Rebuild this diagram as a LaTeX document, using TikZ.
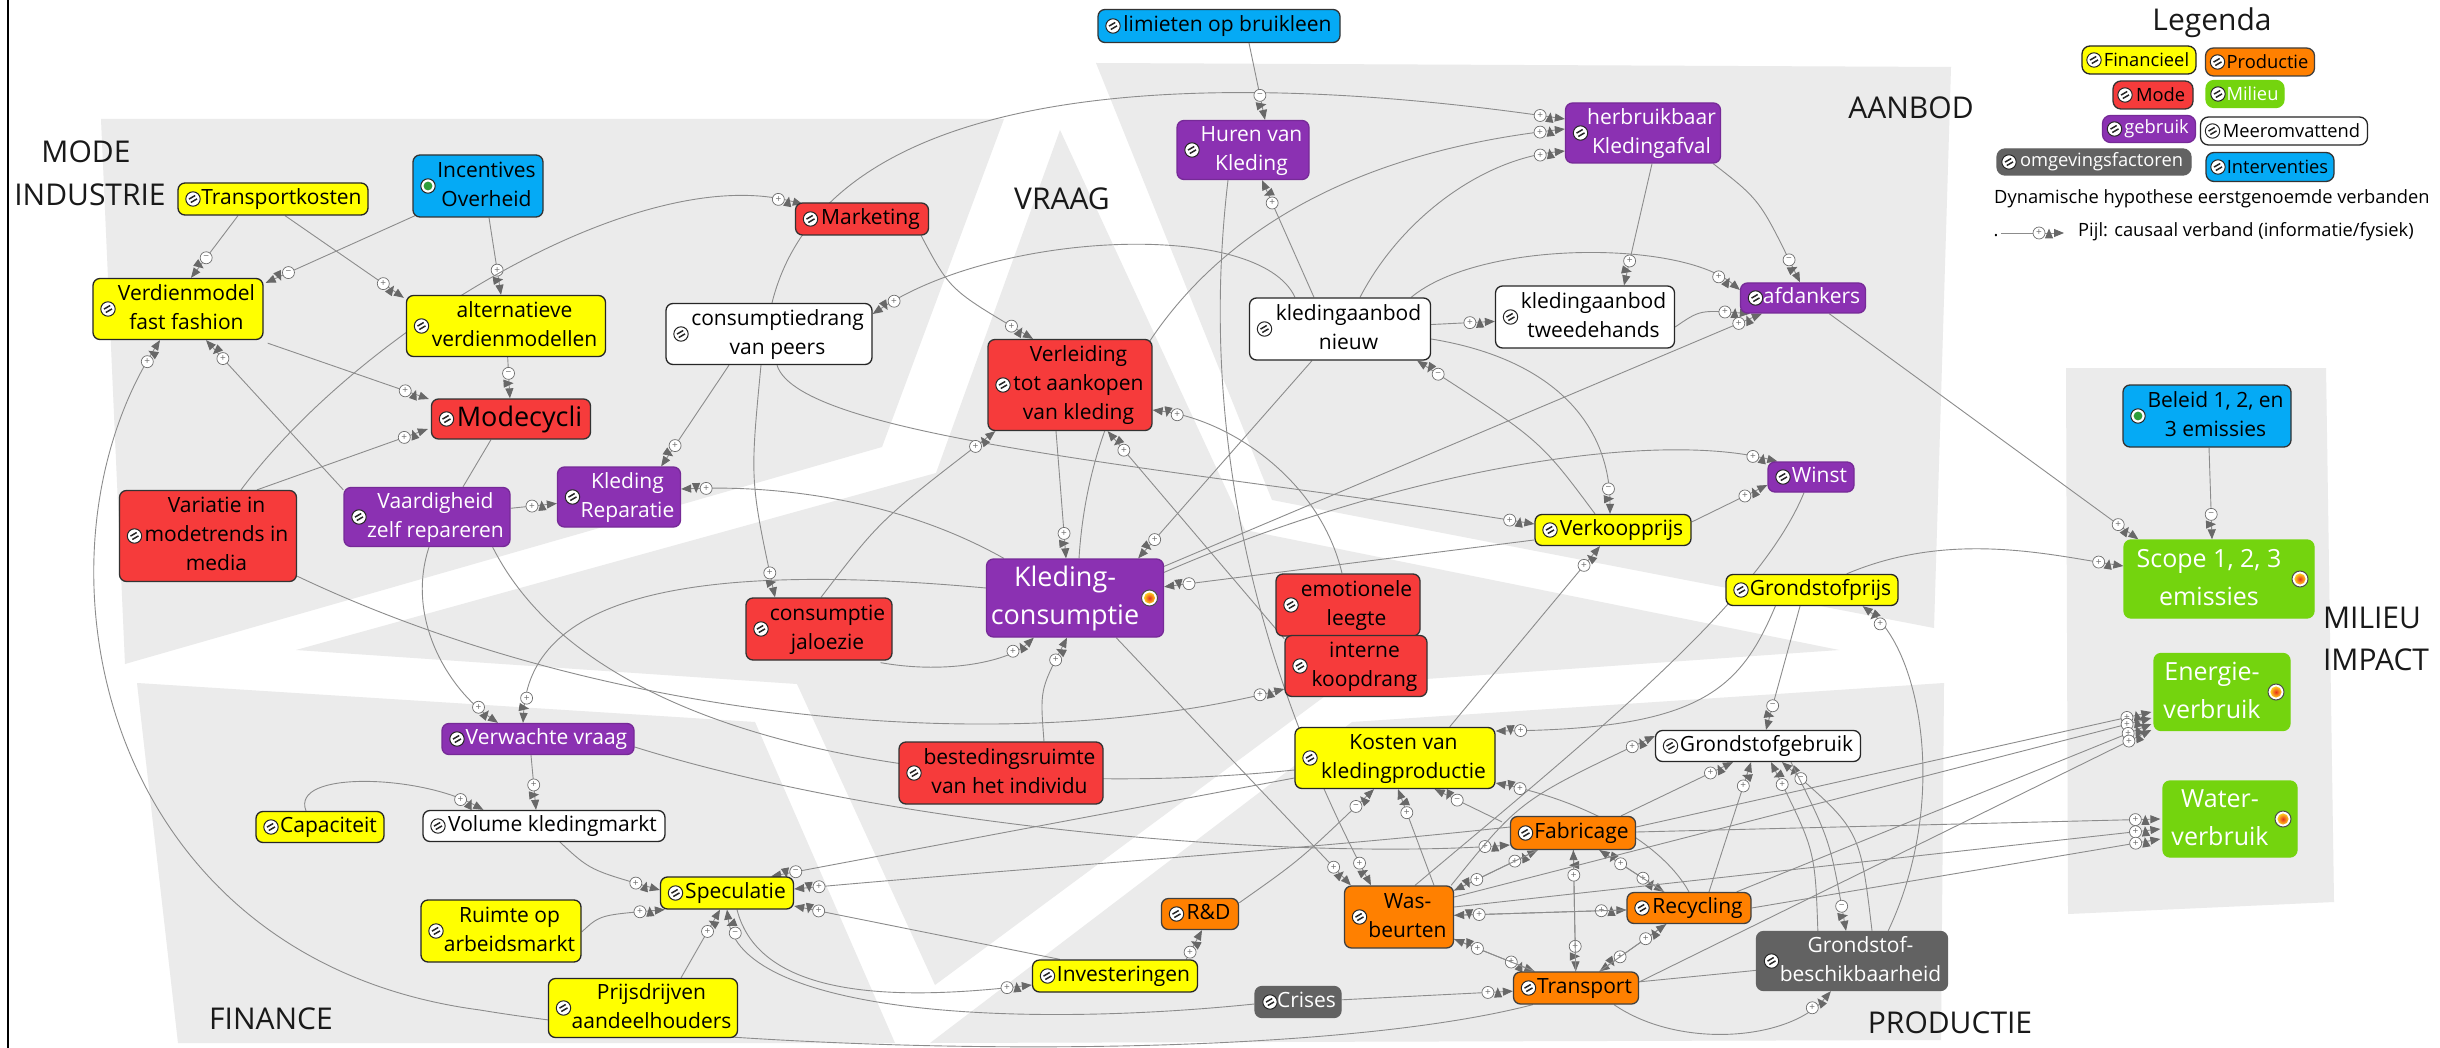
\documentclass[tikz,border=0pt]{standalone}
\usepackage{fontspec}
\setmainfont{Open Sans}
\usetikzlibrary{arrows.meta,decorations.markings,calc}
\pgfdeclarelayer{bg}
\pgfdeclarelayer{edges}
\pgfsetlayers{bg,edges,main}

\definecolor{cyel}{HTML}{FFFF00}
\definecolor{cred}{HTML}{F63B3B}
\definecolor{cpur}{HTML}{8B31B2}
\definecolor{cblu}{HTML}{05AAF5}
\definecolor{cora}{HTML}{FF8000}
\definecolor{cgrn}{HTML}{74D40E}
\definecolor{cdgr}{HTML}{626262}
\definecolor{cbg}{HTML}{EBEBEB}
\definecolor{lnc}{HTML}{8C8C8C}
\definecolor{arc}{HTML}{686868}
\definecolor{sgc}{HTML}{6E6E6E}
\definecolor{cgd}{HTML}{2E9E3A}
\definecolor{dotin}{HTML}{E8301A}
\definecolor{dotout}{HTML}{FFD21E}

\newcommand\nf{\fontsize{21}{29}\selectfont}
\newcommand\bigf{\fontsize{27}{38}\selectfont}
\newcommand\grf{\fontsize{25}{38}\selectfont}
\newcommand\lgf{\fontsize{18.3}{22}\selectfont}
\newcommand\secf{\fontsize{30}{43}\selectfont}
\newcommand\ltx[1]{\hspace*{17pt}\begin{tabular}{@{}c@{}}#1\end{tabular}}
\newcommand\rtx[1]{\begin{tabular}{@{}c@{}}#1\end{tabular}\hspace*{20pt}}
\newcommand\lgt[1]{\hspace*{15pt}#1}

\tikzset{
  bx/.style={rounded corners=7pt, line width=1.3pt, inner sep=0pt, font=\nf},
  nyel/.style={bx, fill=cyel, draw=black!85},
  nred/.style={bx, fill=cred, draw=black!80},
  npur/.style={bx, fill=cpur, draw=cpur!85!black, text=white},
  nblu/.style={bx, fill=cblu, draw=black!80},
  nora/.style={bx, fill=cora, draw=black!75},
  ngrn/.style={bx, fill=cgrn, draw=cgrn, text=white},
  ndgr/.style={bx, fill=cdgr, draw=cdgr, text=white},
  nwht/.style={bx, fill=white, draw=black!85},
  lg/.style={font=\lgf, rounded corners=8pt},
  sec/.style={font=\secf, inner sep=0pt, text=black!90},
  % equation icon on the left side of a variable
  ic/.style={path picture={
      \path ([xshift=#1pt]path picture bounding box.west) coordinate (icc);
      \draw[line width=1pt, draw=black!85, fill=white] (icc) circle[radius=7.2pt];
      \draw[line width=1.5pt, draw=black!85]
        ([shift={(-2.2pt,-3.5pt)}]icc) -- ([shift={(4.0pt,0.1pt)}]icc)
        ([shift={(-4.0pt,-0.1pt)}]icc) -- ([shift={(2.2pt,3.5pt)}]icc);}},
  ic/.default=15,
  % intervention icon
  gic/.style={path picture={
      \path ([xshift=15pt]path picture bounding box.west) coordinate (icc);
      \draw[line width=1pt, draw=black!85, fill=white] (icc) circle[radius=7.2pt];
      \fill[cgd] (icc) circle[radius=4.4pt];}},
  % output indicator on the right side
  oic/.style={path picture={
      \path ([xshift=-14pt]path picture bounding box.east) coordinate (icc);
      \draw[line width=1pt, draw=black!70, fill=white] (icc) circle[radius=8pt];
      \shade[inner color=dotin, outer color=dotout] (icc) circle[radius=5.6pt];}},
  sgn/.style={circle, draw=sgc, fill=white, line width=0.7pt, inner sep=0pt,
      minimum size=12pt, font=\fontsize{10}{10}\selectfont, text=sgc},
  lk/.style={draw=lnc, line width=0.9pt,
      -{Triangle[length=10pt,width=8pt,color=arc,fill=arc]}},
  ep/.style={lk, postaction={decorate, decoration={markings,
      mark=at position -25pt with {\node[sgn]{+};},
      mark=at position -15pt with {\draw[arc, line width=1pt] (0pt,-4.5pt) -- (0pt,4.5pt);}}}},
  en/.style={lk, postaction={decorate, decoration={markings,
      mark=at position -25pt with {\node[sgn]{\char"2212};},
      mark=at position -15pt with {\draw[arc, line width=1pt] (0pt,-4.5pt) -- (0pt,4.5pt);}}}},
  el/.style={draw=lnc, line width=0.9pt},
}

\begin{document}
\begin{tikzpicture}[x=1pt,y=-1pt]
\useasboundingbox (0,0) rectangle (2440,1048);

\begin{pgfonlayer}{bg}
  \fill[white] (0,0) rectangle (2440,1048);
  % sector panels
  \fill[cbg] (101,119) -- (1004,119) -- (882,447) -- (125,664) -- cycle;
  \fill[cbg] (1060,130) -- (1245,530) -- (1839,650) -- (1340,685) -- (935,985)
     -- (797,684) -- (296,650) -- (936,473) -- cycle;
  \fill[cbg] (1096,63) -- (1951,67) -- (1934,628) -- (1272,500) -- cycle;
  \fill[cbg] (137,683) -- (755,722) -- (895,1043) -- (178,1043) -- cycle;
  \fill[cbg] (1352,722) -- (1944,683) -- (1941,1040) -- (930,1043) -- cycle;
  \fill[cbg] (2066,368) -- (2326,368) -- (2334,902) -- (2068,914) -- cycle;
  \draw[line width=1.6pt] (8,0) -- (8,1048);
\end{pgfonlayer}

% sector titles
\node[sec] (tmode) at (86,152) {MODE};
\node[sec] (tind) at (90,195) {INDUSTRIE};
\node[sec] (tvraag) at (1062,199) {VRAAG};
\node[sec] (taanbod) at (1911,108) {AANBOD};
\node[sec] (tfin) at (271,1019) {FINANCE};
\node[sec] (tprod) at (1950,1023) {PRODUCTIE};
\node[sec] (tmil) at (2372,618) {MILIEU};
\node[sec] (timp) at (2376,660) {IMPACT};

% legend
\node[sec] (legt) at (2212,23) {Legenda};
\node[nyel, lg, ic=12, minimum width=114pt, minimum height=28pt] (lfin) at (2139,60) {\lgt{Financieel}};
\node[nora, lg, ic=12, minimum width=109pt, minimum height=28pt] (lprod) at (2260,62) {\lgt{Productie}};
\node[nred, lg, ic=12, minimum width=80pt, minimum height=28pt] (lmode) at (2153,95) {\lgt{Mode}};
\node[ngrn, lg, ic=12, minimum width=78pt, minimum height=27pt] (lmil) at (2245,94) {\lgt{Milieu}};
\node[npur, lg, ic=12, minimum width=93pt, minimum height=27pt] (lgeb) at (2149,129) {\lgt{gebruik}};
\node[nwht, lg, ic=12, minimum width=167pt, minimum height=28pt] (lmeer) at (2284,131) {\lgt{Meeromvattend}};
\node[ndgr, lg, ic=12, minimum width=194pt, minimum height=26pt] (lomg) at (2094,162) {\lgt{omgevingsfactoren}};
\node[nblu, lg, ic=12, minimum width=128pt, minimum height=29pt] (lint) at (2270,167) {\lgt{Interventies}};
\node[anchor=west, font=\lgf, inner sep=0pt] (ldyn) at (1994,199) {Dynamische hypothese eerstgenoemde verbanden};
\node[anchor=west, font=\lgf, inner sep=0pt] (lpijl) at (2078,232) {Pijl: causaal verband (informatie/fysiek)};
\node[font=\lgf, inner sep=0pt] (ldot) at (1996,236) {.};
\coordinate (la) at (2001,233);
\coordinate (lb) at (2064,233);

% variables
\node[nblu, ic, minimum width=242pt, minimum height=33pt] (lim) at (1219,26) {\ltx{limieten op bruikleen}};
\node[npur, ic, minimum width=132pt, minimum height=59pt] (huren) at (1243,150) {\ltx{Huren van\\Kleding}};
\node[npur, ic, minimum width=155pt, minimum height=60pt] (herb) at (1643,133) {\ltx{herbruikbaar\\Kledingafval}};
\node[nyel, ic, minimum width=190pt, minimum height=32pt] (transp) at (273,199) {\ltx{Transportkosten}};
\node[nblu, gic, minimum width=130pt, minimum height=62pt] (incent) at (478,186) {\ltx{Incentives\\Overheid}};
\node[nyel, ic, minimum width=170pt, minimum height=61pt] (verd) at (178,309) {\ltx{Verdienmodel\\fast fashion}};
\node[nyel, ic, minimum width=199pt, minimum height=61pt] (alt) at (506,326) {\ltx{alternatieve\\verdienmodellen}};
\node[nred, ic, minimum width=133pt, minimum height=32pt] (mark) at (862,219) {\ltx{Marketing}};
\node[nwht, ic, minimum width=206pt, minimum height=61pt] (peers) at (769,334) {\ltx{consumptiedrang\\van peers}};
\node[nred, ic, minimum width=164pt, minimum height=91pt] (verl) at (1070,385) {\ltx{Verleiding\\tot aankopen\\van kleding}};
\node[nwht, ic, minimum width=181pt, minimum height=62pt] (aanbn) at (1340,329) {\ltx{kledingaanbod\\nieuw}};
\node[nwht, ic, minimum width=179pt, minimum height=62pt] (aanbt) at (1585,317) {\ltx{kledingaanbod\\tweedehands}};
\node[npur, ic, minimum width=125pt, minimum height=30pt] (afd) at (1803,298) {\ltx{afdankers}};
\node[nred, ic, minimum width=159pt, minimum height=40pt, font=\bigf] (mode) at (511,419) {\ltx{Modecycli}};
\node[nred, ic, minimum width=177pt, minimum height=91pt] (var) at (208,536) {\ltx{Variatie in\\modetrends in\\media}};
\node[npur, ic, minimum width=166pt, minimum height=59pt] (vaard) at (427,517) {\ltx{Vaardigheid\\zelf repareren}};
\node[npur, ic, minimum width=123pt, minimum height=60pt] (rep) at (619,497) {\ltx{Kleding\\Reparatie}};
\node[npur, oic, minimum width=177pt, minimum height=78pt, font=\bigf] (kc) at (1075,598) {\rtx{Kleding-\\consumptie}};
\node[nred, ic, minimum width=146pt, minimum height=62pt] (jal) at (819,629) {\ltx{consumptie\\jaloezie}};
\node[nred, ic, minimum width=144pt, minimum height=62pt] (emo) at (1348,605) {\ltx{emotionele\\leegte}};
\node[nred, ic, minimum width=142pt, minimum height=61pt] (intk) at (1356,666) {\ltx{interne\\koopdrang}};
\node[nyel, ic, minimum width=156pt, minimum height=31pt] (vkp) at (1613,530) {\ltx{Verkoopprijs}};
\node[npur, ic, minimum width=86pt, minimum height=30pt] (winst) at (1811,477) {\ltx{Winst}};
\node[nyel, ic, minimum width=172pt, minimum height=31pt] (gsp) at (1812,590) {\ltx{Grondstofprijs}};
\node[nblu, gic, minimum width=168pt, minimum height=62pt] (beleid) at (2207,416) {\ltx{Beleid 1, 2, en\\3 emissies}};
\node[ngrn, oic, minimum width=190pt, minimum height=78pt, font=\grf] (scope) at (2219,579) {\rtx{Scope 1, 2, 3\\emissies}};
\node[ngrn, oic, minimum width=136pt, minimum height=77pt, font=\grf] (energie) at (2222,692) {\rtx{Energie-\\verbruik}};
\node[ngrn, oic, minimum width=134pt, minimum height=76pt, font=\grf] (water) at (2230,819) {\rtx{Water-\\verbruik}};
\node[npur, ic, minimum width=192pt, minimum height=31pt] (verw) at (538,739) {\ltx{Verwachte vraag}};
\node[nyel, ic, minimum width=128pt, minimum height=31pt] (cap) at (320,827) {\ltx{Capaciteit}};
\node[nwht, ic, minimum width=242pt, minimum height=31pt] (vol) at (544,826) {\ltx{Volume kledingmarkt}};
\node[nyel, ic, minimum width=133pt, minimum height=32pt] (spec) at (727,893) {\ltx{Speculatie}};
\node[nyel, ic, minimum width=160pt, minimum height=62pt] (ruimte) at (501,931) {\ltx{Ruimte op\\arbeidsmarkt}};
\node[nyel, ic, minimum width=189pt, minimum height=59pt] (prijsd) at (643,1008) {\ltx{Prijsdrijven\\aandeelhouders}};
\node[nred, ic, minimum width=204pt, minimum height=62pt] (best) at (1001,773) {\ltx{bestedingsruimte\\van het individu}};
\node[nyel, ic, minimum width=200pt, minimum height=61pt] (kosten) at (1395,758) {\ltx{Kosten van\\kledingproductie}};
\node[nwht, ic, minimum width=205pt, minimum height=31pt] (gsg) at (1758,746) {\ltx{Grondstofgebruik}};
\node[nora, ic, minimum width=125pt, minimum height=33pt] (fab) at (1573,833) {\ltx{Fabricage}};
\node[nora, ic, minimum width=109pt, minimum height=62pt] (was) at (1399,917) {\ltx{Was-\\beurten}};
\node[nora, ic, minimum width=124pt, minimum height=31pt] (recy) at (1689,908) {\ltx{Recycling}};
\node[nora, ic, minimum width=125pt, minimum height=32pt] (trans) at (1576,988) {\ltx{Transport}};
\node[nora, ic, minimum width=77pt, minimum height=31pt] (rd) at (1200,914) {\ltx{R\&D}};
\node[nyel, ic, minimum width=165pt, minimum height=32pt] (inv) at (1115,976) {\ltx{Investeringen}};
\node[ndgr, ic, minimum width=86pt, minimum height=31pt] (crises) at (1298,1002) {\ltx{Crises}};
\node[ndgr, ic, minimum width=191pt, minimum height=59pt] (gsb) at (1852,961) {\ltx{Grondstof-\\beschikbaarheid}};

\begin{pgfonlayer}{edges}
  \draw[ep] (la) -- (lb);
  % mode industrie
  \draw[en] ($(transp.south)+(-35,0)$) -- ($(verd.north)+(13,0)$);
  \draw[ep] ($(transp.south)+(12,0)$) -- ($(alt.north west)+(-2,3)$);
  \draw[en] ($(incent.south west)+(5,-3)$) -- ($(verd.north east)+(2,5)$);
  \draw[ep] ($(incent.south)+(11,0)$) -- ($(alt.north)+(-5,0)$);
  \draw[en] (alt) -- (mode);
  \draw[ep] ($(verd.south east)+(4,3)$) -- ($(mode.west)+(-2,-20)$);
  \draw[ep] ($(var.north)+(49,0)$) -- ($(mode.west)+(-3,10)$);
  \draw[ep] ($(var.north)+(33,0)$) .. controls (360,330) and (640,160) .. ($(mark.north west)+(8,2)$);
  \draw[ep] ($(vaard.north west)+(0,3)$) -- ($(verd.south)+(28,0)$);
  \draw[el] ($(mode.south)+(-20,0)$) -- ($(vaard.north)+(36,0)$);
  \draw[ep] (vaard) -- (rep);
  \draw[ep] ($(vaard.south)+(2,0)$) .. controls (405,620) and (450,690) .. ($(verw.north)+(-40,0)$);
  \draw[ep] ($(var.south east)+(0,-6)$) .. controls (600,720) and (1000,760) .. ($(intk.west)+(0,23)$);
  \draw[el] ($(vaard.south east)+(-18,0)$) .. controls (600,760) and (1000,800) .. ($(kosten.west)+(0,12)$);
  % vraag
  \draw[ep] ($(mark.south east)+(-8,0)$) .. controls (950,290) .. ($(verl.north)+(-37,0)$);
  \draw[ep] ($(peers.north)+(3,0)$) .. controls (830,70) and (1230,70) .. ($(herb.west)+(0,-14)$);
  \draw[ep] ($(kc.north)+(4,0)$) .. controls (1090,380) and (1200,170) .. ($(herb.west)+(0,-4)$);
  \draw[ep] ($(aanbn.north)+(20,0)$) .. controls (1400,220) and (1480,160) .. ($(herb.west)+(0,18)$);
  \draw[ep] ($(aanbn.north)+(-26,0)$) -- ($(huren.south)+(19,0)$);
  \draw[en] ($(lim.south)+(30,0)$) -- ($(huren.north)+(22,0)$);
  \draw[ep] ($(herb.south)+(9,0)$) -- ($(aanbt.north)+(39,0)$);
  \draw[en] ($(herb.south east)+(-8,0)$) .. controls (1760,200) .. ($(afd.north)+(-3,0)$);
  \draw[ep] (aanbn) -- (aanbt);
  \draw[ep] ($(aanbn.north)+(-45,0)$) .. controls (1260,220) and (1000,230) .. ($(peers.east)+(0,-20)$);
  \draw[ep] ($(aanbn.north east)+(-20,0)$) .. controls (1480,240) and (1680,240) .. ($(afd.west)+(0,-8)$);
  \draw[en] ($(aanbn.east)+(0,10)$) .. controls (1560,360) and (1610,430) .. ($(vkp.north)+(-3,0)$);
  \draw[en] ($(vkp.north)+(-18,0)$) .. controls (1540,440) .. ($(aanbn.south east)+(-14,0)$);
  \draw[ep] ($(aanbn.south)+(-28,0)$) -- ($(kc.north east)+(-26,0)$);
  \draw[ep] ($(aanbt.east)+(0,10)$) .. controls (1700,310) .. ($(afd.south west)+(10,0)$);
  \draw[ep] ($(kc.north east)+(0,8)$) -- ($(afd.south west)+(22,0)$);
  \draw[ep] ($(kc.north east)+(0,14)$) .. controls (1400,470) and (1650,430) .. ($(winst.north west)+(10,0)$);
  \draw[en] (vkp) -- (kc);
  \draw[ep] ($(peers.south)+(8,0)$) .. controls (800,440) and (1200,470) .. ($(vkp.west)+(0,-6)$);
  \draw[ep] ($(kosten.north east)+(-46,0)$) -- ($(vkp.south)+(-13,0)$);
  \draw[ep] ($(vkp.east)+(0,-8)$) -- ($(winst.west)+(0,8)$);
  \draw[el] ($(winst.south)+(-7,0)$) .. controls (1760,600) and (1600,730) .. ($(was.north)+(16,0)$);
  \draw[ep] ($(kc.north west)+(18,0)$) .. controls (900,500) and (780,485) .. ($(rep.east)+(0,-8)$);
  \draw[ep] ($(kc.west)+(0,-10)$) .. controls (680,560) and (530,600) .. ($(verw.north)+(-15,0)$);
  \draw[ep] ($(verl.south)+(-14,0)$) -- ($(kc.north)+(-9,0)$);
  \draw[ep] ($(jal.north)+(2,0)$) .. controls (880,520) .. ($(verl.south west)+(8,0)$);
  \draw[ep] ($(intk.north west)+(0,4)$) -- ($(verl.south east)+(-45,0)$);
  \draw[ep] ($(emo.north)+(-6,0)$) .. controls (1320,480) and (1230,420) .. ($(verl.east)+(0,25)$);
  \draw[ep] ($(best.north)+(43,0)$) .. controls (1040,690) .. ($(kc.south)+(-8,0)$);
  \draw[ep] ($(jal.south east)+(-12,2)$) .. controls (950,675) and (1010,660) .. ($(kc.south west)+(48,0)$);
  \draw[ep] ($(kc.south east)+(-48,0)$) -- ($(was.north west)+(7,0)$);
  \draw[ep] ($(huren.south)+(-15,0)$) .. controls (1190,500) and (1300,750) .. ($(was.north)+(-28,0)$);
  \draw[ep] ($(peers.south)+(-40,0)$) -- ($(rep.north east)+(-20,0)$);
  \draw[ep] ($(peers.south)+(-8,0)$) .. controls (750,480) .. ($(jal.north)+(-44,0)$);
  % finance
  \draw[ep] ($(verw.south)+(-7,0)$) -- ($(vol.north)+(-8,0)$);
  \draw[ep] ($(cap.north)+(-14,0)$) .. controls (290,770) and (420,775) .. ($(vol.north west)+(61,0)$);
  \draw[ep] ($(verw.east)+(0,8)$) .. controls (900,830) and (1300,860) .. ($(fab.west)+(0,12)$);
  \draw[ep] ($(vol.south)+(16,0)$) .. controls (590,870) .. ($(spec.west)+(0,-3)$);
  \draw[ep] ($(ruimte.east)+(0,1)$) .. controls (600,915) .. ($(spec.south west)+(5,0)$);
  \draw[ep] ($(prijsd.north)+(38,0)$) -- ($(spec.south)+(-7,0)$);
  \draw[en] ($(crises.west)+(0,2)$) .. controls (1000,1030) and (740,1010) .. (spec.south);
  \draw[ep] ($(spec.south)+(10,0)$) .. controls (760,1000) and (900,1000) .. ($(inv.west)+(0,9)$);
  \draw[ep] ($(inv.north west)+(28,0)$) -- ($(spec.east)+(0,13)$);
  \draw[ep] ($(fab.west)+(0,-6)$) .. controls (1300,850) and (1000,870) .. ($(spec.east)+(0,-4)$);
  \draw[en] ($(kosten.west)+(0,20)$) -- ($(spec.north east)+(-23,0)$);
  \draw[ep] ($(inv.north east)+(-12,0)$) -- ($(rd.south)+(2,0)$);
  % productie
  \draw[en] ($(rd.north east)+(0,5)$) .. controls (1300,860) .. ($(kosten.south)+(-21,0)$);
  \draw[ep] ($(was.north)+(35,0)$) -- ($(kosten.south)+(3,0)$);
  \draw[en] ($(fab.north west)+(-8,6)$) -- ($(kosten.south east)+(-61,0)$);
  \draw[ep] (recy.north) .. controls (1660,840) and (1580,800) .. ($(kosten.east)+(0,25)$);
  \draw[ep] ($(gsp.south west)+(50,0)$) .. controls (1740,690) and (1700,729) .. ($(kosten.east)+(0,-27)$);
  \draw[ep] ($(was.north east)+(-3,0)$) .. controls (1520,800) .. ($(gsg.west)+(0,-10)$);
  \draw[ep] ($(fab.north east)+(-15,0)$) -- ($(gsg.south)+(-25,0)$);
  \draw[ep] ($(recy.north)+(20,0)$) -- ($(gsg.south)+(-7,0)$);
  \draw[ep] ($(gsb.north west)+(62,0)$) .. controls (1815,850) .. ($(gsg.south)+(13,0)$);
  \draw[en] ($(gsb.north)+(20,0)$) .. controls (1860,830) .. ($(gsg.south)+(24,0)$);
  \draw[en] ($(gsg.south)+(33,0)$) .. controls (1830,840) .. ($(gsb.north)+(-6,0)$);
  \draw[en] ($(gsp.south)+(-12,0)$) -- ($(gsg.north)+(8,0)$);
  \draw[ep] ($(gsb.north east)+(-60,0)$) .. controls (1950,800) and (1920,650) .. ($(gsp.south east)+(-36,0)$);
  \draw[ep] (was) -- (fab);
  \draw[ep] (fab) -- (was);
  \draw[ep] (fab) -- (recy);
  \draw[ep] (recy) -- (fab);
  \draw[ep] (fab) -- (trans);
  \draw[ep] (trans) -- (fab);
  \draw[ep] (was) -- (recy);
  \draw[ep] (recy) -- (was);
  \draw[ep] (was) -- (trans);
  \draw[ep] (trans) -- (was);
  \draw[ep] (recy) -- (trans);
  \draw[ep] (trans) -- (recy);
  \draw[ep] (crises) -- (trans);
  \draw[ep] ($(trans.south)+(38,0)$) .. controls (1680,1050) and (1790,1040) .. ($(gsb.south west)+(75,0)$);
  \draw[el] (gsb) -- (trans);
  \draw[ep] ($(trans.south west)+(20,0)$) .. controls (1300,1065) and (750,1055) .. (480,1010)
      .. controls (100,960) and (20,560) .. ($(verd.south)+(-18,0)$);
  % milieu impact
  \draw[ep] ($(gsp.north east)+(-52,0)$) .. controls (1950,530) and (2050,555) .. ($(scope.west)+(0,-13)$);
  \draw[ep] ($(afd.south east)+(-37,0)$) -- ($(scope.north west)+(15,0)$);
  \draw[en] ($(beleid.south)+(2,0)$) -- ($(scope.north)+(-7,0)$);
  \draw[ep] ($(fab.east)+(0,-6)$) -- ($(energie.west)+(-2,20)$);
  \draw[ep] ($(was.east)+(0,-20)$) -- ($(energie.west)+(-2,26)$);
  \draw[ep] ($(recy.north east)+(-15,0)$) -- ($(energie.west)+(-2,32)$);
  \draw[ep] ($(trans.east)+(0,-6)$) -- ($(energie.west)+(-2,38)$);
  \draw[ep] ($(fab.east)+(0,-1)$) -- ($(water.west)+(-2,0)$);
  \draw[ep] ($(was.east)+(0,-10)$) -- ($(water.west)+(-2,10)$);
  \draw[ep] (recy.east) -- ($(water.west)+(-2,20)$);
\end{pgfonlayer}
\end{tikzpicture}
\end{document}
